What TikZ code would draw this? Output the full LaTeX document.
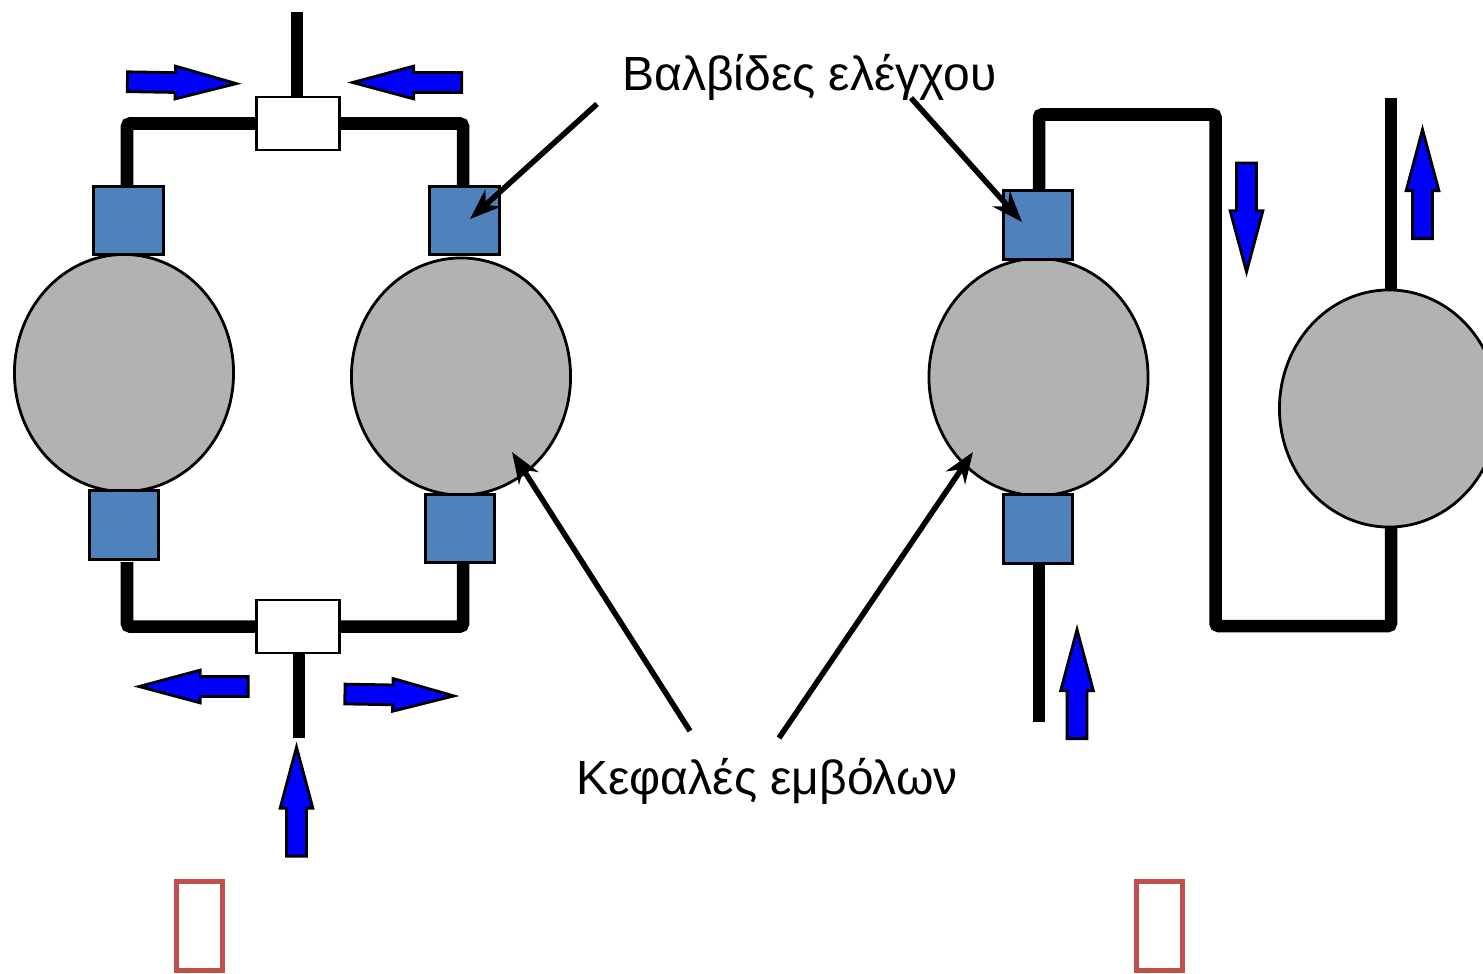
\documentclass[tikz,border=0pt]{standalone}
\usepackage{fontspec}
\setmainfont{Liberation Sans}
\usetikzlibrary{shapes.geometric,shapes.arrows,arrows.meta}
\definecolor{valveblue}{HTML}{4F81BD}
\definecolor{headgray}{HTML}{B2B2B2}
\definecolor{boxred}{HTML}{C0504D}
\tikzset{
  valve/.style={draw=black, line width=.03cm, fill=valveblue, minimum width=.695cm, minimum height=.685cm, inner sep=0pt},
  head/.style={draw=black, line width=.028cm, fill=headgray, ellipse, minimum width=2.19cm, minimum height=2.37cm, inner sep=0pt},
  tee/.style={draw=black, line width=.025cm, fill=white, minimum width=.83cm, minimum height=.53cm, inner sep=0pt},
  pipe/.style={black, line width=.125cm, rounded corners=.03cm},
  flow/.style={draw=black, line width=.028cm, fill=blue, single arrow, anchor=tail, minimum height=1.09cm, inner sep=.085cm,
    single arrow head extend=.065cm, single arrow tip angle=30, single arrow head indent=0pt},
  callout/.style={black, line width=.055cm, -{Stealth[length=.31cm, width=.23cm, inset=.1cm]}},
  label/.style={font=\fontsize{13.65pt}{16pt}\selectfont, inner sep=0pt},
  missing/.style={draw=boxred, line width=.05cm, minimum width=.455cm, minimum height=.885cm, inner sep=0pt}
}
\begin{document}
\begin{tikzpicture}[x=.01cm,y=-.01cm]
  \useasboundingbox (0,0) rectangle (1483,973);

  % free ends of the pipes
  \coordinate (c1) at (127,187);
  \coordinate (c2) at (463,187);
  \coordinate (c3) at (127,562);
  \coordinate (c4) at (463,563);
  \coordinate (s1) at (297,12);
  \coordinate (s2) at (299,738);
  \coordinate (c5) at (1039,191);
  \coordinate (s3) at (1039,722);
  \coordinate (s4) at (1391,98);
  \coordinate (c6) at (1391,292);
  \coordinate (c7) at (1391,527);
  \coordinate (c8) at (1039,563);

  \node[tee] (t1) at (298,123.5) {};
  \node[tee] (t2) at (298,626.5) {};

  \draw[pipe] (c1) |- (t1.west);
  \draw[pipe] (c2) |- (t1.east);
  \draw[pipe] (c3) |- (t2.west);
  \draw[pipe] (c4) |- (t2.east);
  \draw[pipe] (t1.north -| s1) -- (s1);
  \draw[pipe] (t2.south -| s2) -- (s2);
  \draw[pipe] (c5) -- (1039,114.5) -- (1215.5,114.5) -- (1215.5,626) -- (1391,626) -- (c7);
  \draw[pipe] (c8) -- (s3);
  \draw[pipe] (c6) -- (s4);

  \node[head] (e1) at (124,373) {};
  \node[head] (e2) at (461,376.5) {};
  \node[head] (e3) at (1038.5,377) {};
  \node[head] (e4) at (1389,408.5) {};

  \node[valve] (v1) at (128.5,220.5) {};
  \node[valve] (v2) at (464.5,220.5) {};
  \node[valve] (v3) at (124,525) {};
  \node[valve] (v4) at (460,528.5) {};
  \node[valve] (v5) at (1038,225) {};
  \node[valve] (v6) at (1038,529) {};

  % flow arrows, placed by their tails
  \node[flow, rotate=-1] (a1) at (126,81.7) {};
  \node[flow, rotate=180] (a2) at (463,82.5) {};
  \node[flow, rotate=180] (a3) at (249.5,686.5) {};
  \node[flow, rotate=-1] (a4) at (343.5,694) {};
  \node[flow, rotate=90] (a5) at (296.5,857.5) {};
  \node[flow, rotate=-90] (a6) at (1246.5,161.5) {};
  \node[flow, rotate=90] (a7) at (1422.5,240) {};
  \node[flow, rotate=90] (a8) at (1077,740) {};

  \node[label] (valves) at (809.5,77) {Βαλβίδες ελέγχου};
  \node[label] (heads) at (767,781) {Κεφαλές εμβόλων};

  \coordinate (p1) at (597,104);
  \coordinate (q1) at (470,219);
  \coordinate (p2) at (911,98);
  \coordinate (q2) at (1022,222);
  \coordinate (p3) at (690,731);
  \coordinate (q3) at (512,452);
  \coordinate (p4) at (779,738);
  \coordinate (q4) at (973,452);
  \draw[callout] (p1) -- (q1);
  \draw[callout] (p2) -- (q2);
  \draw[callout] (p3) -- (q3);
  \draw[callout] (p4) -- (q4);

  \node[missing] (b1) at (199.5,926) {};
  \node[missing] (b2) at (1159.5,926) {};
\end{tikzpicture}
\end{document}
